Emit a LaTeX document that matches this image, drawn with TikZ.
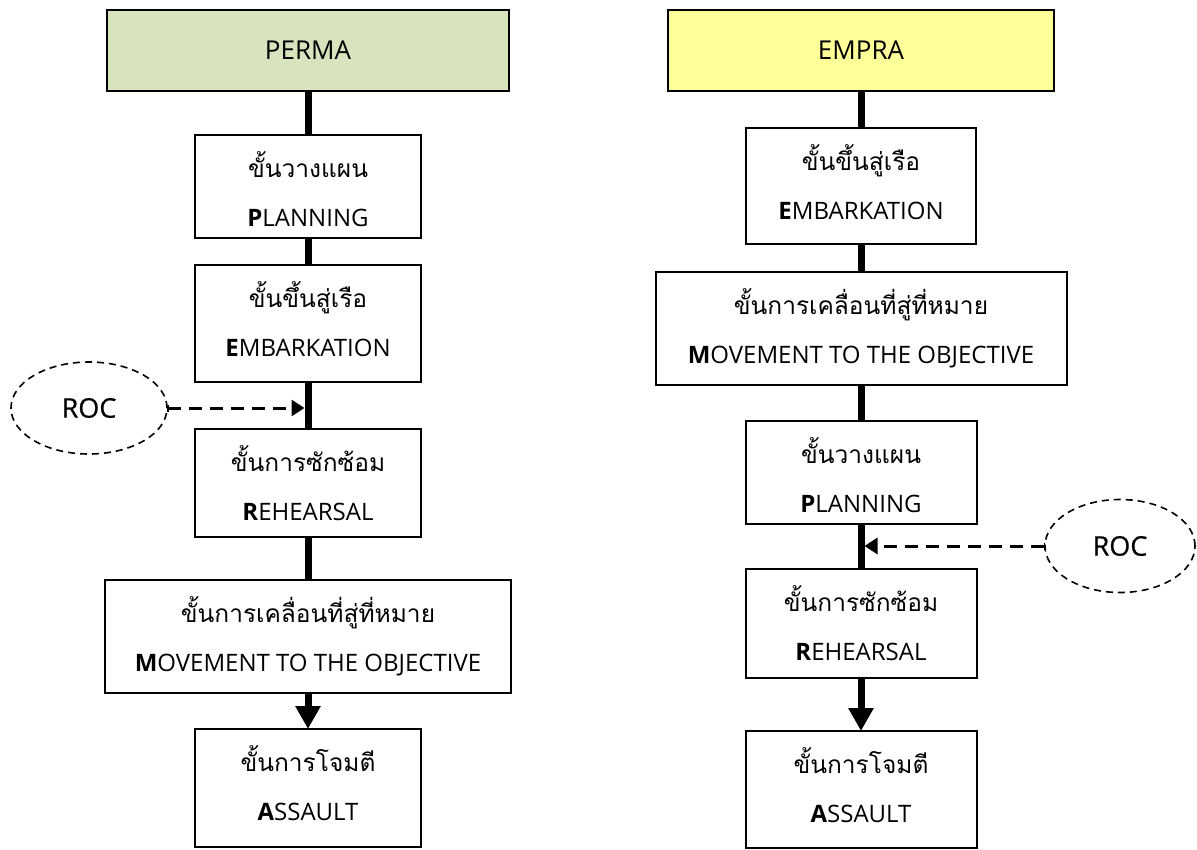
\documentclass[tikz,border=0pt]{standalone}
\usepackage{fontspec}
\setmainfont{Open Sans}
\newfontfamily\thaifont[Script=Thai]{Loma}
\newfontfamily\rocfont[FakeBold=0.6]{Open Sans}
\usetikzlibrary{arrows.meta,calc,shapes.geometric}
\definecolor{permagreen}{RGB}{215,228,189}
\definecolor{emprayellow}{RGB}{255,255,153}
\begin{document}
\begin{tikzpicture}[x=1pt,y=-1pt,
  stagebox/.style={draw=black,line width=2pt,fill=white,inner sep=0pt,outer sep=0pt},
  titlebox/.style={stagebox,font=\fontsize{26}{30}\selectfont},
  thaitxt/.style={anchor=base,inner sep=0pt,font=\thaifont\fontsize{24.5}{28}\selectfont},
  engtxt/.style={anchor=base,inner sep=0pt,font=\fontsize{24}{28}\selectfont},
  conn/.style={line width=7pt,black},
  lastconn/.style={conn,-{Triangle[length=23pt,width=24pt]}},
  rocnode/.style={ellipse,draw=black,line width=1.6pt,dash pattern=on 7pt off 5pt,inner sep=0pt,outer sep=0pt,font=\rocfont\fontsize{27}{30}\selectfont},
  rocarrow/.style={line width=3pt,dash pattern=on 13pt off 8pt,{Bar[width=7pt,line width=1.5pt]}-{Triangle[length=13pt,width=16pt]}}
]
\useasboundingbox (0,0) rectangle (1197,849);

% ---------------- left column: PERMA ----------------
\node[titlebox,fill=permagreen,minimum width=402pt,minimum height=81pt] (perma) at (308,50.5) {PERMA};
\node[stagebox,minimum width=226pt,minimum height=103pt] (planL) at (308,186.5) {};
\node[stagebox,minimum width=226pt,minimum height=117pt] (embL) at (308,323.5) {};
\node[stagebox,minimum width=226pt,minimum height=108pt] (rehL) at (308,483) {};
\node[stagebox,minimum width=406pt,minimum height=113pt] (movL) at (308,636.5) {};
\node[stagebox,minimum width=226pt,minimum height=118pt] (asL) at (308,788) {};

\node[thaitxt] (planLt) at ($(planL.north)+(0,42)$) {ขั้นวางแผน};
\node[engtxt] (planLe) at ($(planL.north)+(0,91)$) {\textbf{P}LANNING};
\node[thaitxt] (embLt) at ($(embL.north)+(0,42)$) {ขั้นขึ้นสู่เรือ};
\node[engtxt] (embLe) at ($(embL.north)+(0,91)$) {\textbf{E}MBARKATION};
\node[thaitxt] (rehLt) at ($(rehL.north)+(0,42)$) {ขั้นการซักซ้อม};
\node[engtxt] (rehLe) at ($(rehL.north)+(0,91)$) {\textbf{R}EHEARSAL};
\node[thaitxt] (movLt) at ($(movL.north)+(0,42)$) {ขั้นการเคลื่อนที่สู่ที่หมาย};
\node[engtxt] (movLe) at ($(movL.north)+(0,91)$) {\textbf{M}OVEMENT TO THE OBJECTIVE};
\node[thaitxt] (asLt) at ($(asL.north)+(0,42)$) {ขั้นการโจมตี};
\node[engtxt] (asLe) at ($(asL.north)+(0,91)$) {\textbf{A}SSAULT};

\draw[conn] (perma) -- (planL);
\draw[conn] (planL) -- (embL);
\draw[conn] (embL) -- (rehL);
\draw[conn] (rehL) -- (movL);
\draw[lastconn] (movL) -- (asL);

\node[rocnode,minimum width=156pt,minimum height=92pt] (rocL) at (89,408) {ROC};
\coordinate (hitL) at (304.5,408);
\draw[rocarrow] (rocL) -- (hitL);

% ---------------- right column: EMPRA ----------------
\node[titlebox,fill=emprayellow,minimum width=386pt,minimum height=81pt] (empra) at (861,50.5) {EMPRA};
\node[stagebox,minimum width=230pt,minimum height=116pt] (embR) at (861,186) {};
\node[stagebox,minimum width=411pt,minimum height=113pt] (movR) at (861,328.5) {};
\node[stagebox,minimum width=231pt,minimum height=103pt] (planR) at (861,472.5) {};
\node[stagebox,minimum width=231pt,minimum height=109pt] (rehR) at (861,623.5) {};
\node[stagebox,minimum width=231pt,minimum height=117pt] (asR) at (861,789.5) {};

\node[thaitxt] (embRt) at ($(embR.north)+(0,42)$) {ขั้นขึ้นสู่เรือ};
\node[engtxt] (embRe) at ($(embR.north)+(0,91)$) {\textbf{E}MBARKATION};
\node[thaitxt] (movRt) at ($(movR.north)+(0,42)$) {ขั้นการเคลื่อนที่สู่ที่หมาย};
\node[engtxt] (movRe) at ($(movR.north)+(0,91)$) {\textbf{M}OVEMENT TO THE OBJECTIVE};
\node[thaitxt] (planRt) at ($(planR.north)+(0,42)$) {ขั้นวางแผน};
\node[engtxt] (planRe) at ($(planR.north)+(0,91)$) {\textbf{P}LANNING};
\node[thaitxt] (rehRt) at ($(rehR.north)+(0,42)$) {ขั้นการซักซ้อม};
\node[engtxt] (rehRe) at ($(rehR.north)+(0,91)$) {\textbf{R}EHEARSAL};
\node[thaitxt] (asRt) at ($(asR.north)+(0,42)$) {ขั้นการโจมตี};
\node[engtxt] (asRe) at ($(asR.north)+(0,91)$) {\textbf{A}SSAULT};

\draw[conn] (empra) -- (embR);
\draw[conn] (embR) -- (movR);
\draw[conn] (movR) -- (planR);
\draw[conn] (planR) -- (rehR);
\draw[lastconn] (rehR) -- (asR);

\node[rocnode,minimum width=150pt,minimum height=93pt] (rocR) at (1120,546) {ROC};
\coordinate (hitR) at (864.5,546);
\draw[rocarrow] (rocR) -- (hitR);
\end{tikzpicture}
\end{document}
